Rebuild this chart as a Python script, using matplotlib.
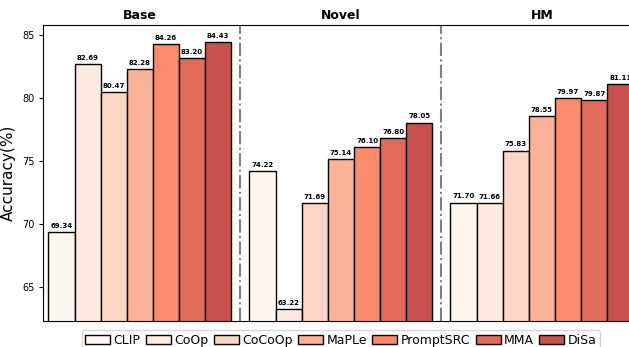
import numpy as np
import matplotlib.pyplot as plt

grupos = ["Base", "Novel", "HM"]
metodos = ["CLIP", "CoOp", "CoCoOp", "MaPLe", "PromptSRC", "MMA", "DiSa"]
base = [69.34, 82.69, 80.47, 82.28, 84.26, 83.20, 84.43]
novel = [74.22, 63.22, 71.69, 75.14, 76.10, 76.80, 78.05]
hm = [71.70, 71.66, 75.83, 78.55, 79.97, 79.87, 81.11]
colores = ["#fff6f0", "#feebe0", "#fdd5c3", "#fcb296", "#fb8b6c", "#e36b5a", "#c8514d"]

datos = np.array([base, novel, hm])

fig = plt.figure(figsize=(6.29, 3.47), dpi=100)
ax = fig.add_axes([0.069, 0.075, 0.946, 0.853])

ancho = 0.13
x = np.arange(len(grupos))
for i, metodo in enumerate(metodos):
    pos = x + (i - 3) * ancho
    barras = ax.bar(pos, datos[:, i], ancho, color=colores[i], edgecolor="black",
                    linewidth=1.0, label=metodo)
    for b in barras:
        h = b.get_height()
        ax.text(b.get_x() + b.get_width() / 2, h + 0.25, f"{h:.2f}",
                ha="center", va="bottom", fontsize=5, fontweight="bold")

for s in [0.5, 1.5]:
    ax.axvline(s, color="gray", linestyle="-.", linewidth=1.5)

for g, nombre in zip(x, grupos):
    ax.text(g, 1.01, nombre, transform=ax.get_xaxis_transform(), ha="center",
            va="bottom", fontsize=9, fontweight="bold")

ax.set_xlim(-0.48, 2.48)
ax.set_ylim(62.3, 85.8)
ax.set_xticks([])
ax.set_yticks([65, 70, 75, 80, 85])
ax.tick_params(axis="y", labelsize=7, length=3)
ax.set_ylabel("Accuracy(%)", fontsize=11)

ax.legend(loc="upper center", bbox_to_anchor=(0.5, -0.01), ncol=7, fontsize=9,
          handlelength=2.0, handletextpad=0.25, columnspacing=0.45,
          borderpad=0.3, frameon=True)

fig.savefig("out.png", dpi=100)
